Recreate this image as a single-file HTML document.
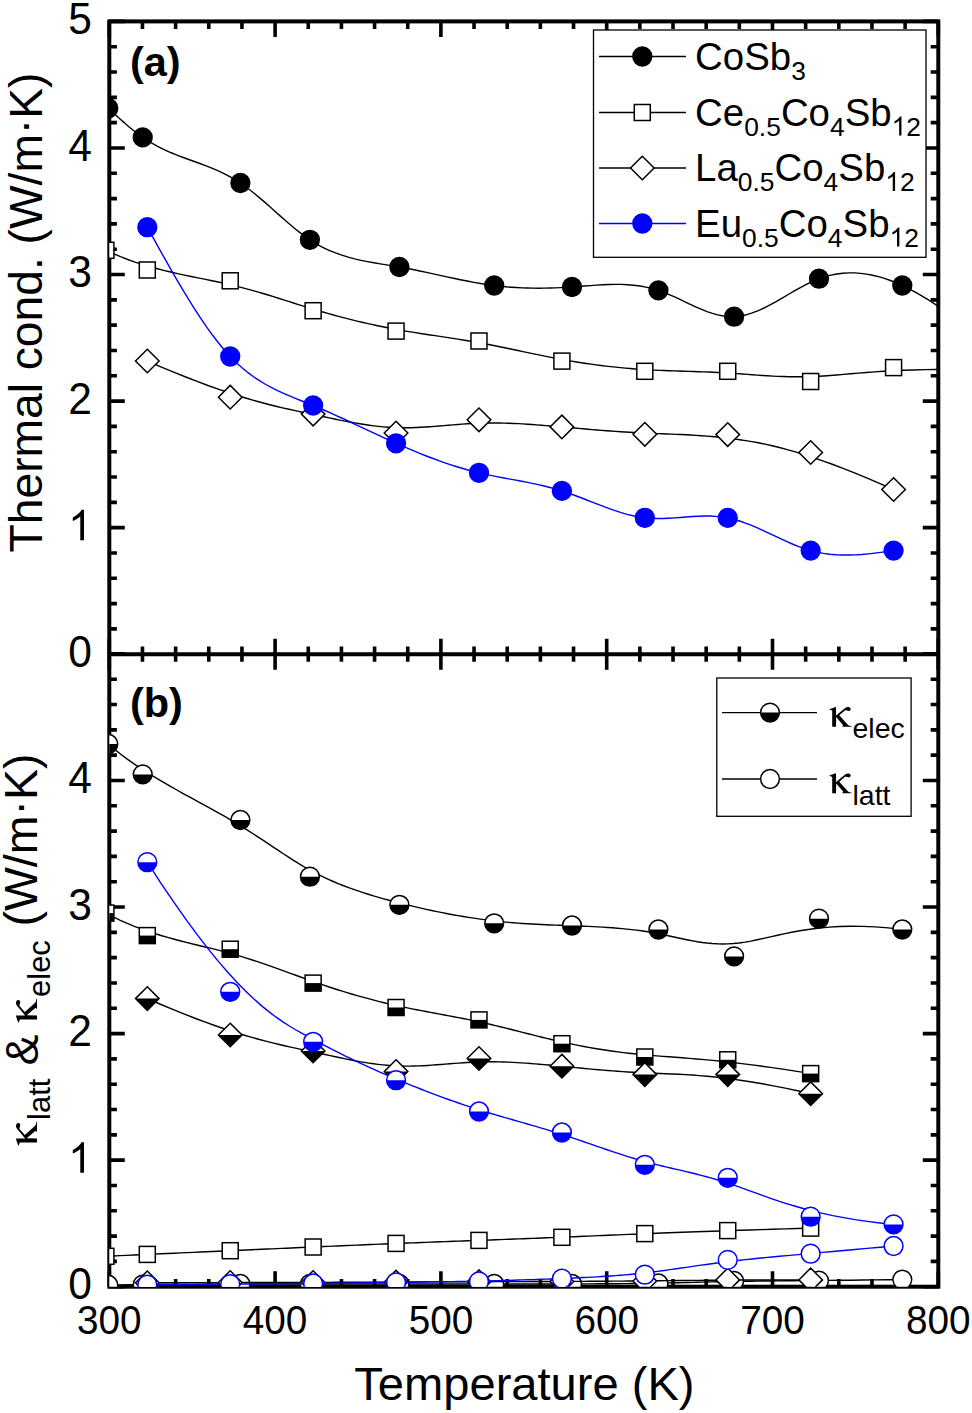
<!DOCTYPE html><html><head><meta charset="utf-8"><style>html,body{margin:0;padding:0;background:#fff;}svg{display:block;}</style></head><body><svg width="972" height="1413" viewBox="0 0 972 1413">
<rect width="972" height="1413" fill="#fff"/>
<defs><clipPath id="ca"><rect x="109.3" y="21.4" width="829.0" height="632.8000000000001"/></clipPath><clipPath id="cb"><rect x="109.3" y="654.2" width="829.0" height="632.5"/></clipPath></defs>
<path d="M109.30,654.20 h15.5 M938.30,654.20 h-15.5 M109.30,628.89 h7.6 M938.30,628.89 h-7.6 M109.30,603.58 h7.6 M938.30,603.58 h-7.6 M109.30,578.26 h7.6 M938.30,578.26 h-7.6 M109.30,552.95 h7.6 M938.30,552.95 h-7.6 M109.30,527.64 h15.5 M938.30,527.64 h-15.5 M109.30,502.33 h7.6 M938.30,502.33 h-7.6 M109.30,477.02 h7.6 M938.30,477.02 h-7.6 M109.30,451.70 h7.6 M938.30,451.70 h-7.6 M109.30,426.39 h7.6 M938.30,426.39 h-7.6 M109.30,401.08 h15.5 M938.30,401.08 h-15.5 M109.30,375.77 h7.6 M938.30,375.77 h-7.6 M109.30,350.46 h7.6 M938.30,350.46 h-7.6 M109.30,325.14 h7.6 M938.30,325.14 h-7.6 M109.30,299.83 h7.6 M938.30,299.83 h-7.6 M109.30,274.52 h15.5 M938.30,274.52 h-15.5 M109.30,249.21 h7.6 M938.30,249.21 h-7.6 M109.30,223.90 h7.6 M938.30,223.90 h-7.6 M109.30,198.58 h7.6 M938.30,198.58 h-7.6 M109.30,173.27 h7.6 M938.30,173.27 h-7.6 M109.30,147.96 h15.5 M938.30,147.96 h-15.5 M109.30,122.65 h7.6 M938.30,122.65 h-7.6 M109.30,97.34 h7.6 M938.30,97.34 h-7.6 M109.30,72.02 h7.6 M938.30,72.02 h-7.6 M109.30,46.71 h7.6 M938.30,46.71 h-7.6 M109.30,21.40 h15.5 M938.30,21.40 h-15.5 M109.30,1286.70 h15.5 M938.30,1286.70 h-15.5 M109.30,1261.39 h7.6 M938.30,1261.39 h-7.6 M109.30,1236.08 h7.6 M938.30,1236.08 h-7.6 M109.30,1210.76 h7.6 M938.30,1210.76 h-7.6 M109.30,1185.45 h7.6 M938.30,1185.45 h-7.6 M109.30,1160.14 h15.5 M938.30,1160.14 h-15.5 M109.30,1134.83 h7.6 M938.30,1134.83 h-7.6 M109.30,1109.52 h7.6 M938.30,1109.52 h-7.6 M109.30,1084.20 h7.6 M938.30,1084.20 h-7.6 M109.30,1058.89 h7.6 M938.30,1058.89 h-7.6 M109.30,1033.58 h15.5 M938.30,1033.58 h-15.5 M109.30,1008.27 h7.6 M938.30,1008.27 h-7.6 M109.30,982.96 h7.6 M938.30,982.96 h-7.6 M109.30,957.64 h7.6 M938.30,957.64 h-7.6 M109.30,932.33 h7.6 M938.30,932.33 h-7.6 M109.30,907.02 h15.5 M938.30,907.02 h-15.5 M109.30,881.71 h7.6 M938.30,881.71 h-7.6 M109.30,856.40 h7.6 M938.30,856.40 h-7.6 M109.30,831.08 h7.6 M938.30,831.08 h-7.6 M109.30,805.77 h7.6 M938.30,805.77 h-7.6 M109.30,780.46 h15.5 M938.30,780.46 h-15.5 M109.30,755.15 h7.6 M938.30,755.15 h-7.6 M109.30,729.84 h7.6 M938.30,729.84 h-7.6 M109.30,704.52 h7.6 M938.30,704.52 h-7.6 M109.30,679.21 h7.6 M938.30,679.21 h-7.6 M109.30,653.90 h15.5 M938.30,653.90 h-15.5 M109.30,21.40 v15.5 M109.30,638.70 v31.0 M109.30,1286.70 v-15.5 M142.46,21.40 v7.6 M142.46,646.60 v15.2 M142.46,1286.70 v-7.6 M175.62,21.40 v7.6 M175.62,646.60 v15.2 M175.62,1286.70 v-7.6 M208.78,21.40 v7.6 M208.78,646.60 v15.2 M208.78,1286.70 v-7.6 M241.94,21.40 v7.6 M241.94,646.60 v15.2 M241.94,1286.70 v-7.6 M275.10,21.40 v15.5 M275.10,638.70 v31.0 M275.10,1286.70 v-15.5 M308.26,21.40 v7.6 M308.26,646.60 v15.2 M308.26,1286.70 v-7.6 M341.42,21.40 v7.6 M341.42,646.60 v15.2 M341.42,1286.70 v-7.6 M374.58,21.40 v7.6 M374.58,646.60 v15.2 M374.58,1286.70 v-7.6 M407.74,21.40 v7.6 M407.74,646.60 v15.2 M407.74,1286.70 v-7.6 M440.90,21.40 v15.5 M440.90,638.70 v31.0 M440.90,1286.70 v-15.5 M474.06,21.40 v7.6 M474.06,646.60 v15.2 M474.06,1286.70 v-7.6 M507.22,21.40 v7.6 M507.22,646.60 v15.2 M507.22,1286.70 v-7.6 M540.38,21.40 v7.6 M540.38,646.60 v15.2 M540.38,1286.70 v-7.6 M573.54,21.40 v7.6 M573.54,646.60 v15.2 M573.54,1286.70 v-7.6 M606.70,21.40 v15.5 M606.70,638.70 v31.0 M606.70,1286.70 v-15.5 M639.86,21.40 v7.6 M639.86,646.60 v15.2 M639.86,1286.70 v-7.6 M673.02,21.40 v7.6 M673.02,646.60 v15.2 M673.02,1286.70 v-7.6 M706.18,21.40 v7.6 M706.18,646.60 v15.2 M706.18,1286.70 v-7.6 M739.34,21.40 v7.6 M739.34,646.60 v15.2 M739.34,1286.70 v-7.6 M772.50,21.40 v15.5 M772.50,638.70 v31.0 M772.50,1286.70 v-15.5 M805.66,21.40 v7.6 M805.66,646.60 v15.2 M805.66,1286.70 v-7.6 M838.82,21.40 v7.6 M838.82,646.60 v15.2 M838.82,1286.70 v-7.6 M871.98,21.40 v7.6 M871.98,646.60 v15.2 M871.98,1286.70 v-7.6 M905.14,21.40 v7.6 M905.14,646.60 v15.2 M905.14,1286.70 v-7.6 M938.30,21.40 v15.5 M938.30,638.70 v31.0 M938.30,1286.70 v-15.5" stroke="#000" stroke-width="3.6" fill="none"/>
<rect x="109.3" y="21.4" width="829.00" height="1265.30" stroke="#000" stroke-width="4.0" fill="none"/>
<path d="M109.3,654.2 H938.3" stroke="#000" stroke-width="4.0" fill="none"/>
<g clip-path="url(#ca)">
<path d="M108.30,108.20 L110.76,110.47 L113.21,112.74 L115.67,115.00 L118.13,117.24 L120.59,119.46 L123.04,121.64 L125.50,123.80 L127.96,125.91 L130.41,127.97 L132.87,129.99 L135.33,131.94 L137.79,133.83 L140.24,135.65 L142.70,137.40 L149.68,141.93 L156.66,145.90 L163.64,149.40 L170.61,152.52 L177.59,155.34 L184.57,157.98 L191.55,160.50 L198.53,163.02 L205.51,165.61 L212.49,168.38 L219.46,171.41 L226.44,174.80 L233.42,178.63 L240.40,183.00 L245.36,186.48 L250.33,190.22 L255.29,194.20 L260.26,198.36 L265.22,202.65 L270.19,207.03 L275.15,211.46 L280.11,215.88 L285.08,220.26 L290.04,224.54 L295.01,228.68 L299.97,232.63 L304.94,236.36 L309.90,239.80 L316.29,243.77 L322.69,247.26 L329.08,250.29 L335.47,252.92 L341.86,255.20 L348.26,257.16 L354.65,258.85 L361.04,260.32 L367.44,261.62 L373.83,262.78 L380.22,263.85 L386.61,264.88 L393.01,265.92 L399.40,267.00 L406.17,268.24 L412.94,269.56 L419.71,270.95 L426.49,272.39 L433.26,273.86 L440.03,275.34 L446.80,276.82 L453.57,278.28 L460.34,279.69 L467.11,281.04 L473.89,282.32 L480.66,283.50 L487.43,284.57 L494.20,285.50 L499.76,286.16 L505.31,286.72 L510.87,287.18 L516.43,287.55 L521.99,287.84 L527.54,288.04 L533.10,288.16 L538.66,288.20 L544.21,288.17 L549.77,288.06 L555.33,287.89 L560.89,287.65 L566.44,287.36 L572.00,287.00 L578.17,286.55 L584.34,286.06 L590.51,285.58 L596.69,285.13 L602.86,284.76 L609.03,284.49 L615.20,284.37 L621.37,284.42 L627.54,284.69 L633.71,285.20 L639.89,285.99 L646.06,287.10 L652.23,288.56 L658.40,290.40 L663.81,292.35 L669.21,294.55 L674.62,296.94 L680.03,299.45 L685.44,302.02 L690.84,304.58 L696.25,307.07 L701.66,309.41 L707.06,311.54 L712.47,313.39 L717.88,314.90 L723.29,316.00 L728.69,316.62 L734.10,316.70 L740.16,316.09 L746.23,314.80 L752.29,312.93 L758.36,310.55 L764.42,307.76 L770.49,304.64 L776.55,301.29 L782.61,297.79 L788.68,294.24 L794.74,290.72 L800.81,287.31 L806.87,284.11 L812.94,281.21 L819.00,278.70 L824.95,276.68 L830.90,275.10 L836.85,273.94 L842.80,273.20 L848.75,272.86 L854.70,272.91 L860.65,273.33 L866.60,274.11 L872.55,275.23 L878.50,276.68 L884.45,278.45 L890.40,280.51 L896.35,282.87 L902.30,285.50 L909.05,288.79 L915.79,292.40 L922.54,296.28 L929.28,300.42 L936.03,304.79 L942.78,309.37 L949.52,314.12 L956.27,319.04 L963.02,324.07 L969.76,329.22 L976.51,334.43 L983.25,339.70 L990.00,345.00" fill="none" stroke="#000" stroke-width="1.4"/><circle cx="108.30" cy="108.20" r="9.4" fill="#000" stroke="#000" stroke-width="1.5"/><circle cx="142.70" cy="137.40" r="9.4" fill="#000" stroke="#000" stroke-width="1.5"/><circle cx="240.40" cy="183.00" r="9.4" fill="#000" stroke="#000" stroke-width="1.5"/><circle cx="309.90" cy="239.80" r="9.4" fill="#000" stroke="#000" stroke-width="1.5"/><circle cx="399.40" cy="267.00" r="9.4" fill="#000" stroke="#000" stroke-width="1.5"/><circle cx="494.20" cy="285.50" r="9.4" fill="#000" stroke="#000" stroke-width="1.5"/><circle cx="572.00" cy="287.00" r="9.4" fill="#000" stroke="#000" stroke-width="1.5"/><circle cx="658.40" cy="290.40" r="9.4" fill="#000" stroke="#000" stroke-width="1.5"/><circle cx="734.10" cy="316.70" r="9.4" fill="#000" stroke="#000" stroke-width="1.5"/><circle cx="819.00" cy="278.70" r="9.4" fill="#000" stroke="#000" stroke-width="1.5"/><circle cx="902.30" cy="285.50" r="9.4" fill="#000" stroke="#000" stroke-width="1.5"/>
<path d="M105.90,250.30 L113.21,253.63 L120.50,256.69 L127.78,259.48 L135.04,262.05 L142.27,264.39 L149.45,266.54 L156.59,268.52 L163.66,270.34 L170.67,272.03 L177.60,273.60 L184.45,275.07 L191.21,276.47 L197.86,277.82 L204.41,279.14 L210.84,280.44 L217.14,281.75 L223.31,283.08 L229.34,284.46 L235.23,285.88 L240.99,287.34 L246.64,288.84 L252.18,290.36 L257.61,291.90 L262.96,293.47 L268.22,295.04 L273.40,296.63 L278.51,298.23 L283.57,299.82 L288.58,301.41 L293.54,302.99 L298.47,304.55 L303.37,306.10 L308.26,307.62 L313.14,309.12 L318.02,310.58 L322.90,312.01 L327.77,313.41 L332.65,314.77 L337.53,316.10 L342.41,317.39 L347.28,318.66 L352.16,319.88 L357.04,321.08 L361.92,322.23 L366.79,323.36 L371.67,324.44 L376.55,325.50 L381.43,326.51 L386.30,327.50 L391.18,328.44 L396.06,329.35 L400.94,330.22 L405.82,331.07 L410.69,331.88 L415.57,332.67 L420.45,333.44 L425.33,334.19 L430.20,334.94 L435.08,335.68 L439.96,336.41 L444.84,337.15 L449.71,337.89 L454.59,338.64 L459.47,339.41 L464.35,340.19 L469.22,341.00 L474.10,341.83 L478.98,342.70 L483.86,343.60 L488.74,344.53 L493.61,345.49 L498.49,346.47 L503.37,347.47 L508.25,348.48 L513.12,349.51 L518.00,350.54 L522.88,351.57 L527.76,352.61 L532.63,353.63 L537.51,354.65 L542.39,355.65 L547.27,356.64 L552.14,357.60 L557.02,358.54 L561.90,359.45 L566.78,360.32 L571.66,361.16 L576.53,361.97 L581.41,362.74 L586.29,363.48 L591.17,364.18 L596.04,364.85 L600.92,365.48 L605.80,366.08 L610.68,366.64 L615.55,367.17 L620.43,367.66 L625.31,368.12 L630.19,368.54 L635.06,368.93 L639.94,369.28 L644.82,369.60 L649.70,369.88 L654.58,370.13 L659.45,370.36 L664.33,370.56 L669.21,370.75 L674.09,370.91 L678.96,371.07 L683.84,371.22 L688.72,371.38 L693.60,371.53 L698.47,371.69 L703.35,371.85 L708.23,372.04 L713.11,372.24 L717.98,372.47 L722.86,372.72 L727.74,373.00 L732.62,373.32 L737.51,373.66 L742.41,374.02 L747.34,374.39 L752.30,374.77 L757.31,375.13 L762.37,375.48 L767.48,375.81 L772.66,376.11 L777.92,376.37 L783.27,376.57 L788.70,376.72 L794.24,376.81 L799.89,376.82 L805.65,376.75 L811.54,376.59 L817.57,376.32 L823.75,375.96 L830.11,375.51 L836.70,374.98 L843.56,374.40 L850.73,373.79 L858.25,373.15 L866.18,372.51 L874.54,371.89 L883.38,371.31 L892.75,370.78 L902.68,370.31 L913.22,369.94 L924.40,369.67 L936.28,369.52 L948.90,369.52 L962.29,369.67 L976.50,370.00" fill="none" stroke="#000" stroke-width="1.4"/><rect x="97.90" y="242.30" width="16.0" height="16.0" fill="#fff" stroke="#000" stroke-width="1.5"/><rect x="139.30" y="262.00" width="16.0" height="16.0" fill="#fff" stroke="#000" stroke-width="1.5"/><rect x="222.22" y="272.80" width="16.0" height="16.0" fill="#fff" stroke="#000" stroke-width="1.5"/><rect x="305.14" y="302.70" width="16.0" height="16.0" fill="#fff" stroke="#000" stroke-width="1.5"/><rect x="388.06" y="323.10" width="16.0" height="16.0" fill="#fff" stroke="#000" stroke-width="1.5"/><rect x="470.98" y="333.00" width="16.0" height="16.0" fill="#fff" stroke="#000" stroke-width="1.5"/><rect x="553.90" y="353.10" width="16.0" height="16.0" fill="#fff" stroke="#000" stroke-width="1.5"/><rect x="636.82" y="363.30" width="16.0" height="16.0" fill="#fff" stroke="#000" stroke-width="1.5"/><rect x="719.74" y="363.30" width="16.0" height="16.0" fill="#fff" stroke="#000" stroke-width="1.5"/><rect x="802.66" y="373.50" width="16.0" height="16.0" fill="#fff" stroke="#000" stroke-width="1.5"/><rect x="885.58" y="359.60" width="16.0" height="16.0" fill="#fff" stroke="#000" stroke-width="1.5"/>
<path d="M147.30,361.00 L160.85,366.83 L173.65,372.16 L185.75,377.02 L197.17,381.45 L207.96,385.47 L218.15,389.10 L227.78,392.39 L236.89,395.34 L245.50,398.00 L253.67,400.39 L261.42,402.54 L268.78,404.48 L275.81,406.23 L282.53,407.83 L288.97,409.29 L295.19,410.66 L301.20,411.95 L307.06,413.20 L312.78,414.43 L318.38,415.63 L323.87,416.80 L329.25,417.93 L334.53,419.03 L339.71,420.08 L344.82,421.09 L349.84,422.04 L354.79,422.93 L359.68,423.77 L364.51,424.54 L369.30,425.23 L374.04,425.86 L378.75,426.40 L383.43,426.86 L388.09,427.23 L392.74,427.51 L397.39,427.69 L402.03,427.78 L406.67,427.77 L411.32,427.69 L415.96,427.53 L420.60,427.31 L425.25,427.05 L429.89,426.73 L434.53,426.39 L439.18,426.02 L443.82,425.64 L448.47,425.25 L453.11,424.86 L457.75,424.48 L462.40,424.13 L467.04,423.81 L471.68,423.52 L476.33,423.29 L480.97,423.12 L485.61,423.00 L490.26,422.95 L494.90,422.95 L499.54,423.00 L504.19,423.10 L508.83,423.25 L513.47,423.43 L518.12,423.65 L522.76,423.91 L527.41,424.20 L532.05,424.51 L536.69,424.85 L541.34,425.21 L545.98,425.59 L550.62,425.98 L555.27,426.37 L559.91,426.78 L564.55,427.18 L569.20,427.59 L573.84,427.99 L578.48,428.40 L583.13,428.80 L587.77,429.19 L592.41,429.58 L597.06,429.96 L601.70,430.33 L606.35,430.69 L610.99,431.04 L615.63,431.38 L620.28,431.70 L624.92,432.01 L629.56,432.30 L634.21,432.57 L638.85,432.82 L643.49,433.05 L648.14,433.27 L652.79,433.46 L657.45,433.64 L662.13,433.81 L666.84,433.99 L671.58,434.17 L676.37,434.36 L681.20,434.57 L686.09,434.80 L691.04,435.06 L696.06,435.36 L701.17,435.70 L706.35,436.08 L711.63,436.52 L717.01,437.02 L722.50,437.58 L728.10,438.21 L733.82,438.92 L739.68,439.71 L745.69,440.61 L751.91,441.63 L758.35,442.81 L765.07,444.17 L772.10,445.74 L779.46,447.53 L787.21,449.58 L795.38,451.91 L803.99,454.54 L813.10,457.50 L822.73,460.81 L832.92,464.50 L843.71,468.59 L855.13,473.12 L867.23,478.09 L880.03,483.54 L893.58,489.50" fill="none" stroke="#000" stroke-width="1.4"/><path d="M147.30,349.20 L159.10,361.00 L147.30,372.80 L135.50,361.00 Z" fill="#fff" stroke="#000" stroke-width="1.5"/><path d="M230.22,385.40 L242.02,397.20 L230.22,409.00 L218.42,397.20 Z" fill="#fff" stroke="#000" stroke-width="1.5"/><path d="M313.14,402.30 L324.94,414.10 L313.14,425.90 L301.34,414.10 Z" fill="#fff" stroke="#000" stroke-width="1.5"/><path d="M396.06,421.20 L407.86,433.00 L396.06,444.80 L384.26,433.00 Z" fill="#fff" stroke="#000" stroke-width="1.5"/><path d="M478.98,408.00 L490.78,419.80 L478.98,431.60 L467.18,419.80 Z" fill="#fff" stroke="#000" stroke-width="1.5"/><path d="M561.90,415.10 L573.70,426.90 L561.90,438.70 L550.10,426.90 Z" fill="#fff" stroke="#000" stroke-width="1.5"/><path d="M644.82,422.50 L656.62,434.30 L644.82,446.10 L633.02,434.30 Z" fill="#fff" stroke="#000" stroke-width="1.5"/><path d="M727.74,422.80 L739.54,434.60 L727.74,446.40 L715.94,434.60 Z" fill="#fff" stroke="#000" stroke-width="1.5"/><path d="M810.66,440.70 L822.46,452.50 L810.66,464.30 L798.86,452.50 Z" fill="#fff" stroke="#000" stroke-width="1.5"/><path d="M893.58,477.70 L905.38,489.50 L893.58,501.30 L881.78,489.50 Z" fill="#fff" stroke="#000" stroke-width="1.5"/>
<path d="M147.30,227.20 L153.22,237.91 L159.15,248.58 L165.07,259.16 L170.99,269.60 L176.91,279.86 L182.84,289.89 L188.76,299.65 L194.68,309.09 L200.61,318.16 L206.53,326.83 L212.45,335.04 L218.37,342.76 L224.30,349.92 L230.22,356.50 L236.14,362.46 L242.07,367.83 L247.99,372.67 L253.91,377.03 L259.83,380.95 L265.76,384.50 L271.68,387.73 L277.60,390.68 L283.53,393.40 L289.45,395.96 L295.37,398.39 L301.29,400.76 L307.22,403.11 L313.14,405.50 L319.06,407.96 L324.99,410.50 L330.91,413.11 L336.83,415.78 L342.75,418.49 L348.68,421.24 L354.60,424.01 L360.52,426.80 L366.45,429.59 L372.37,432.38 L378.29,435.16 L384.21,437.91 L390.14,440.63 L396.06,443.30 L401.98,445.92 L407.91,448.47 L413.83,450.97 L419.75,453.39 L425.67,455.74 L431.60,458.01 L437.52,460.20 L443.44,462.30 L449.37,464.31 L455.29,466.22 L461.21,468.03 L467.13,469.73 L473.06,471.32 L478.98,472.80 L484.90,474.16 L490.83,475.42 L496.75,476.61 L502.67,477.74 L508.59,478.84 L514.52,479.93 L520.44,481.03 L526.36,482.16 L532.29,483.35 L538.21,484.62 L544.13,485.99 L550.05,487.47 L555.98,489.10 L561.90,490.90 L567.82,492.87 L573.75,494.99 L579.67,497.22 L585.59,499.52 L591.51,501.86 L597.44,504.18 L603.36,506.46 L609.28,508.65 L615.21,510.71 L621.13,512.61 L627.05,514.31 L632.97,515.77 L638.90,516.94 L644.82,517.80 L650.74,518.31 L656.67,518.52 L662.59,518.49 L668.51,518.26 L674.43,517.90 L680.36,517.46 L686.28,517.00 L692.20,516.57 L698.13,516.24 L704.05,516.05 L709.97,516.07 L715.89,516.34 L721.82,516.94 L727.74,517.90 L733.66,519.27 L739.59,521.02 L745.51,523.08 L751.43,525.41 L757.35,527.94 L763.28,530.61 L769.20,533.38 L775.12,536.18 L781.05,538.96 L786.97,541.67 L792.89,544.24 L798.81,546.62 L804.74,548.76 L810.66,550.60 L817.04,552.19 L823.42,553.41 L829.80,554.27 L836.17,554.81 L842.55,555.06 L848.93,555.06 L855.31,554.84 L861.69,554.43 L868.07,553.85 L874.44,553.15 L880.82,552.35 L887.20,551.49 L893.58,550.60" fill="none" stroke="#0000ff" stroke-width="1.4"/><circle cx="147.30" cy="227.20" r="9.4" fill="#0000ff" stroke="#0000ff" stroke-width="1.5"/><circle cx="230.22" cy="356.50" r="9.4" fill="#0000ff" stroke="#0000ff" stroke-width="1.5"/><circle cx="313.14" cy="405.50" r="9.4" fill="#0000ff" stroke="#0000ff" stroke-width="1.5"/><circle cx="396.06" cy="443.30" r="9.4" fill="#0000ff" stroke="#0000ff" stroke-width="1.5"/><circle cx="478.98" cy="472.80" r="9.4" fill="#0000ff" stroke="#0000ff" stroke-width="1.5"/><circle cx="561.90" cy="490.90" r="9.4" fill="#0000ff" stroke="#0000ff" stroke-width="1.5"/><circle cx="644.82" cy="517.80" r="9.4" fill="#0000ff" stroke="#0000ff" stroke-width="1.5"/><circle cx="727.74" cy="517.90" r="9.4" fill="#0000ff" stroke="#0000ff" stroke-width="1.5"/><circle cx="810.66" cy="550.60" r="9.4" fill="#0000ff" stroke="#0000ff" stroke-width="1.5"/><circle cx="893.58" cy="550.60" r="9.4" fill="#0000ff" stroke="#0000ff" stroke-width="1.5"/>
</g>
<g clip-path="url(#cb)">
<path d="M108.30,1285.00 L114.38,1284.93 L120.71,1284.87 L127.27,1284.80 L134.02,1284.74 L140.94,1284.68 L147.98,1284.62 L155.13,1284.57 L162.34,1284.52 L169.59,1284.47 L176.85,1284.42 L184.09,1284.37 L191.26,1284.33 L198.35,1284.29 L205.32,1284.25 L212.14,1284.22 L218.78,1284.19 L225.21,1284.16 L231.40,1284.13 L237.34,1284.11 L243.06,1284.09 L248.57,1284.07 L253.89,1284.06 L259.04,1284.05 L264.04,1284.04 L268.91,1284.03 L273.67,1284.02 L278.33,1284.01 L282.91,1284.01 L287.43,1284.01 L291.92,1284.00 L296.38,1284.00 L300.84,1284.00 L305.31,1284.00 L309.82,1284.00 L314.38,1284.00 L319.00,1284.00 L323.69,1284.00 L328.44,1284.00 L333.24,1284.00 L338.10,1284.00 L343.01,1284.00 L347.97,1284.00 L352.97,1284.00 L358.02,1284.00 L363.11,1284.00 L368.24,1284.00 L373.40,1284.00 L378.59,1284.00 L383.81,1284.00 L389.06,1284.00 L394.33,1284.00 L399.62,1284.00 L404.93,1284.00 L410.25,1284.00 L415.59,1284.00 L420.93,1284.00 L426.26,1284.00 L431.60,1284.00 L436.93,1284.00 L442.25,1284.00 L447.55,1284.00 L452.83,1284.00 L458.09,1284.00 L463.31,1284.00 L468.51,1284.00 L473.67,1284.00 L478.78,1284.00 L483.86,1284.00 L488.88,1284.00 L493.84,1284.00 L498.76,1284.00 L503.62,1284.00 L508.44,1284.00 L513.22,1284.00 L517.97,1284.00 L522.69,1284.00 L527.38,1283.99 L532.05,1283.99 L536.71,1283.99 L541.36,1283.98 L546.00,1283.98 L550.64,1283.97 L555.29,1283.96 L559.95,1283.95 L564.62,1283.94 L569.31,1283.93 L574.02,1283.91 L578.77,1283.90 L583.53,1283.88 L588.32,1283.86 L593.12,1283.84 L597.94,1283.81 L602.77,1283.79 L607.60,1283.75 L612.44,1283.72 L617.27,1283.68 L622.10,1283.64 L626.92,1283.59 L631.73,1283.54 L636.52,1283.48 L641.29,1283.41 L646.04,1283.34 L650.76,1283.27 L655.45,1283.19 L660.11,1283.10 L664.74,1283.01 L669.35,1282.91 L673.96,1282.80 L678.59,1282.70 L683.23,1282.58 L687.91,1282.47 L692.63,1282.36 L697.40,1282.24 L702.25,1282.12 L707.18,1282.01 L712.19,1281.90 L717.32,1281.78 L722.56,1281.68 L727.92,1281.57 L733.43,1281.47 L739.09,1281.37 L744.91,1281.28 L750.92,1281.20 L757.15,1281.12 L763.64,1281.04 L770.42,1280.97 L777.54,1280.90 L785.03,1280.82 L792.92,1280.74 L801.26,1280.67 L810.07,1280.58 L819.40,1280.49 L829.29,1280.40 L839.77,1280.29 L850.87,1280.18 L862.64,1280.05 L875.11,1279.92 L888.32,1279.76 L902.30,1279.60" fill="none" stroke="#000" stroke-width="1.4"/><circle cx="108.30" cy="1285.00" r="9.4" fill="#fff" stroke="#000" stroke-width="1.5"/><circle cx="142.70" cy="1284.60" r="9.4" fill="#fff" stroke="#000" stroke-width="1.5"/><circle cx="240.40" cy="1284.00" r="9.4" fill="#fff" stroke="#000" stroke-width="1.5"/><circle cx="309.90" cy="1284.00" r="9.4" fill="#fff" stroke="#000" stroke-width="1.5"/><circle cx="399.40" cy="1284.00" r="9.4" fill="#fff" stroke="#000" stroke-width="1.5"/><circle cx="494.20" cy="1284.00" r="9.4" fill="#fff" stroke="#000" stroke-width="1.5"/><circle cx="572.00" cy="1284.00" r="9.4" fill="#fff" stroke="#000" stroke-width="1.5"/><circle cx="658.40" cy="1283.50" r="9.4" fill="#fff" stroke="#000" stroke-width="1.5"/><circle cx="734.10" cy="1281.00" r="9.4" fill="#fff" stroke="#000" stroke-width="1.5"/><circle cx="819.00" cy="1280.60" r="9.4" fill="#fff" stroke="#000" stroke-width="1.5"/><circle cx="902.30" cy="1279.60" r="9.4" fill="#fff" stroke="#000" stroke-width="1.5"/>
<path d="M147.30,1282.80 L160.39,1282.75 L172.78,1282.71 L184.52,1282.68 L195.62,1282.64 L206.13,1282.61 L216.07,1282.59 L225.49,1282.57 L234.41,1282.55 L242.86,1282.53 L250.88,1282.52 L258.50,1282.50 L265.75,1282.49 L272.68,1282.48 L279.29,1282.47 L285.64,1282.46 L291.76,1282.45 L297.67,1282.44 L303.41,1282.42 L309.02,1282.41 L314.50,1282.39 L319.88,1282.38 L325.14,1282.36 L330.32,1282.34 L335.39,1282.32 L340.39,1282.30 L345.30,1282.28 L350.15,1282.26 L354.92,1282.24 L359.64,1282.22 L364.31,1282.19 L368.93,1282.17 L373.51,1282.15 L378.06,1282.12 L382.58,1282.10 L387.09,1282.08 L391.58,1282.06 L396.06,1282.03 L400.54,1282.01 L405.02,1281.99 L409.51,1281.97 L413.99,1281.95 L418.47,1281.93 L422.95,1281.91 L427.44,1281.90 L431.92,1281.88 L436.40,1281.86 L440.88,1281.84 L445.36,1281.83 L449.85,1281.81 L454.33,1281.80 L458.81,1281.78 L463.29,1281.77 L467.77,1281.75 L472.26,1281.74 L476.74,1281.72 L481.22,1281.71 L485.70,1281.70 L490.19,1281.68 L494.67,1281.67 L499.15,1281.66 L503.63,1281.65 L508.11,1281.63 L512.60,1281.62 L517.08,1281.61 L521.56,1281.59 L526.04,1281.58 L530.52,1281.56 L535.01,1281.55 L539.49,1281.53 L543.97,1281.52 L548.45,1281.50 L552.94,1281.49 L557.42,1281.47 L561.90,1281.45 L566.38,1281.43 L570.87,1281.41 L575.38,1281.39 L579.90,1281.37 L584.45,1281.34 L589.03,1281.32 L593.65,1281.29 L598.32,1281.26 L603.04,1281.23 L607.81,1281.19 L612.66,1281.16 L617.57,1281.12 L622.57,1281.08 L627.64,1281.04 L632.82,1280.99 L638.08,1280.94 L643.46,1280.89 L648.94,1280.84 L654.55,1280.78 L660.29,1280.72 L666.20,1280.65 L672.32,1280.59 L678.67,1280.52 L685.28,1280.46 L692.21,1280.39 L699.46,1280.33 L707.08,1280.26 L715.10,1280.21 L723.55,1280.15 L732.47,1280.10 L741.89,1280.05 L751.83,1280.01 L762.34,1279.97 L773.44,1279.94 L785.18,1279.92 L797.57,1279.90 L810.66,1279.90" fill="none" stroke="#000" stroke-width="1.4"/><path d="M147.30,1271.00 L159.10,1282.80 L147.30,1294.60 L135.50,1282.80 Z" fill="#fff" stroke="#000" stroke-width="1.5"/><path d="M230.22,1270.70 L242.02,1282.50 L230.22,1294.30 L218.42,1282.50 Z" fill="#fff" stroke="#000" stroke-width="1.5"/><path d="M313.14,1270.70 L324.94,1282.50 L313.14,1294.30 L301.34,1282.50 Z" fill="#fff" stroke="#000" stroke-width="1.5"/><path d="M396.06,1270.20 L407.86,1282.00 L396.06,1293.80 L384.26,1282.00 Z" fill="#fff" stroke="#000" stroke-width="1.5"/><path d="M478.98,1269.90 L490.78,1281.70 L478.98,1293.50 L467.18,1281.70 Z" fill="#fff" stroke="#000" stroke-width="1.5"/><path d="M561.90,1269.70 L573.70,1281.50 L561.90,1293.30 L550.10,1281.50 Z" fill="#fff" stroke="#000" stroke-width="1.5"/><path d="M644.82,1269.20 L656.62,1281.00 L644.82,1292.80 L633.02,1281.00 Z" fill="#fff" stroke="#000" stroke-width="1.5"/><path d="M727.74,1268.10 L739.54,1279.90 L727.74,1291.70 L715.94,1279.90 Z" fill="#fff" stroke="#000" stroke-width="1.5"/><path d="M810.66,1268.10 L822.46,1279.90 L810.66,1291.70 L798.86,1279.90 Z" fill="#fff" stroke="#000" stroke-width="1.5"/>
<path d="M105.90,1256.30 L112.85,1255.98 L119.80,1255.66 L126.74,1255.35 L133.65,1255.03 L140.54,1254.72 L147.39,1254.41 L154.19,1254.10 L160.95,1253.80 L167.65,1253.50 L174.28,1253.20 L180.85,1252.91 L187.33,1252.62 L193.72,1252.33 L200.02,1252.05 L206.22,1251.77 L212.31,1251.50 L218.29,1251.23 L224.14,1250.97 L229.86,1250.72 L235.46,1250.47 L240.95,1250.22 L246.33,1249.98 L251.61,1249.75 L256.79,1249.51 L261.90,1249.29 L266.92,1249.06 L271.87,1248.84 L276.76,1248.63 L281.59,1248.41 L286.38,1248.20 L291.12,1247.99 L295.83,1247.78 L300.51,1247.57 L305.17,1247.37 L309.82,1247.16 L314.47,1246.96 L319.11,1246.75 L323.75,1246.55 L328.40,1246.35 L333.04,1246.14 L337.68,1245.94 L342.33,1245.74 L346.97,1245.54 L351.61,1245.34 L356.26,1245.14 L360.90,1244.95 L365.55,1244.75 L370.19,1244.56 L374.83,1244.36 L379.48,1244.17 L384.12,1243.98 L388.76,1243.79 L393.41,1243.61 L398.05,1243.42 L402.69,1243.24 L407.34,1243.06 L411.98,1242.88 L416.62,1242.70 L421.27,1242.52 L425.91,1242.35 L430.55,1242.17 L435.20,1242.00 L439.84,1241.82 L444.49,1241.65 L449.13,1241.48 L453.77,1241.31 L458.42,1241.14 L463.06,1240.97 L467.70,1240.80 L472.35,1240.63 L476.99,1240.46 L481.63,1240.29 L486.28,1240.11 L490.92,1239.94 L495.56,1239.77 L500.21,1239.60 L504.85,1239.42 L509.49,1239.25 L514.14,1239.07 L518.78,1238.90 L523.43,1238.72 L528.07,1238.54 L532.71,1238.36 L537.36,1238.18 L542.00,1238.00 L546.64,1237.82 L551.29,1237.63 L555.93,1237.44 L560.57,1237.25 L565.22,1237.06 L569.87,1236.87 L574.53,1236.68 L579.21,1236.48 L583.92,1236.28 L588.66,1236.08 L593.45,1235.88 L598.28,1235.67 L603.17,1235.47 L608.12,1235.26 L613.14,1235.04 L618.25,1234.83 L623.43,1234.62 L628.71,1234.40 L634.09,1234.18 L639.58,1233.95 L645.18,1233.73 L650.90,1233.50 L656.76,1233.27 L662.77,1233.03 L668.99,1232.80 L675.43,1232.55 L682.15,1232.30 L689.18,1232.05 L696.54,1231.78 L704.29,1231.51 L712.46,1231.23 L721.07,1230.94 L730.18,1230.63 L739.81,1230.31 L750.00,1229.98 L760.79,1229.64 L772.21,1229.28 L784.31,1228.90 L797.11,1228.51 L810.66,1228.10" fill="none" stroke="#000" stroke-width="1.4"/><rect x="97.90" y="1248.30" width="16.0" height="16.0" fill="#fff" stroke="#000" stroke-width="1.5"/><rect x="139.30" y="1246.40" width="16.0" height="16.0" fill="#fff" stroke="#000" stroke-width="1.5"/><rect x="222.22" y="1242.70" width="16.0" height="16.0" fill="#fff" stroke="#000" stroke-width="1.5"/><rect x="305.14" y="1239.00" width="16.0" height="16.0" fill="#fff" stroke="#000" stroke-width="1.5"/><rect x="388.06" y="1235.40" width="16.0" height="16.0" fill="#fff" stroke="#000" stroke-width="1.5"/><rect x="470.98" y="1232.40" width="16.0" height="16.0" fill="#fff" stroke="#000" stroke-width="1.5"/><rect x="553.90" y="1229.30" width="16.0" height="16.0" fill="#fff" stroke="#000" stroke-width="1.5"/><rect x="636.82" y="1225.60" width="16.0" height="16.0" fill="#fff" stroke="#000" stroke-width="1.5"/><rect x="719.74" y="1222.60" width="16.0" height="16.0" fill="#fff" stroke="#000" stroke-width="1.5"/><rect x="802.66" y="1220.10" width="16.0" height="16.0" fill="#fff" stroke="#000" stroke-width="1.5"/>
<path d="M147.30,1284.60 L160.85,1284.53 L173.65,1284.47 L185.75,1284.40 L197.17,1284.34 L207.96,1284.27 L218.15,1284.21 L227.78,1284.15 L236.89,1284.09 L245.50,1284.02 L253.67,1283.96 L261.42,1283.90 L268.78,1283.84 L275.81,1283.78 L282.53,1283.72 L288.97,1283.65 L295.19,1283.59 L301.20,1283.53 L307.06,1283.47 L312.78,1283.40 L318.38,1283.34 L323.87,1283.28 L329.25,1283.21 L334.53,1283.15 L339.71,1283.08 L344.82,1283.02 L349.84,1282.95 L354.79,1282.89 L359.68,1282.83 L364.51,1282.76 L369.30,1282.70 L374.04,1282.64 L378.75,1282.57 L383.43,1282.51 L388.09,1282.45 L392.74,1282.39 L397.39,1282.33 L402.03,1282.28 L406.67,1282.22 L411.32,1282.16 L415.96,1282.10 L420.60,1282.04 L425.25,1281.98 L429.89,1281.92 L434.53,1281.86 L439.18,1281.80 L443.82,1281.73 L448.47,1281.66 L453.11,1281.58 L457.75,1281.51 L462.40,1281.43 L467.04,1281.34 L471.68,1281.25 L476.33,1281.16 L480.97,1281.06 L485.61,1280.95 L490.26,1280.84 L494.90,1280.72 L499.54,1280.60 L504.19,1280.47 L508.83,1280.34 L513.47,1280.20 L518.12,1280.06 L522.76,1279.91 L527.41,1279.76 L532.05,1279.60 L536.69,1279.44 L541.34,1279.27 L545.98,1279.10 L550.62,1278.93 L555.27,1278.75 L559.91,1278.56 L564.55,1278.38 L569.20,1278.18 L573.84,1277.98 L578.48,1277.77 L583.13,1277.56 L587.77,1277.33 L592.41,1277.08 L597.06,1276.83 L601.70,1276.55 L606.35,1276.26 L610.99,1275.94 L615.63,1275.61 L620.28,1275.25 L624.92,1274.87 L629.56,1274.46 L634.21,1274.02 L638.85,1273.55 L643.49,1273.05 L648.14,1272.52 L652.79,1271.95 L657.45,1271.36 L662.13,1270.74 L666.84,1270.09 L671.58,1269.43 L676.37,1268.75 L681.20,1268.05 L686.09,1267.34 L691.04,1266.63 L696.06,1265.90 L701.17,1265.18 L706.35,1264.45 L711.63,1263.73 L717.01,1263.01 L722.50,1262.30 L728.10,1261.60 L733.82,1260.91 L739.68,1260.24 L745.69,1259.59 L751.91,1258.94 L758.35,1258.29 L765.07,1257.63 L772.10,1256.97 L779.46,1256.28 L787.21,1255.58 L795.38,1254.84 L803.99,1254.08 L813.10,1253.27 L822.73,1252.41 L832.92,1251.51 L843.71,1250.54 L855.13,1249.52 L867.23,1248.42 L880.03,1247.25 L893.58,1246.00" fill="none" stroke="#0000ff" stroke-width="1.4"/><circle cx="147.30" cy="1284.60" r="9.4" fill="#fff" stroke="#0000ff" stroke-width="1.5"/><circle cx="230.22" cy="1284.20" r="9.4" fill="#fff" stroke="#0000ff" stroke-width="1.5"/><circle cx="313.14" cy="1283.50" r="9.4" fill="#fff" stroke="#0000ff" stroke-width="1.5"/><circle cx="396.06" cy="1282.30" r="9.4" fill="#fff" stroke="#0000ff" stroke-width="1.5"/><circle cx="478.98" cy="1281.40" r="9.4" fill="#fff" stroke="#0000ff" stroke-width="1.5"/><circle cx="561.90" cy="1278.70" r="9.4" fill="#fff" stroke="#0000ff" stroke-width="1.5"/><circle cx="644.82" cy="1274.70" r="9.4" fill="#fff" stroke="#0000ff" stroke-width="1.5"/><circle cx="727.74" cy="1259.90" r="9.4" fill="#fff" stroke="#0000ff" stroke-width="1.5"/><circle cx="810.66" cy="1253.70" r="9.4" fill="#fff" stroke="#0000ff" stroke-width="1.5"/><circle cx="893.58" cy="1246.00" r="9.4" fill="#fff" stroke="#0000ff" stroke-width="1.5"/>
<path d="M108.30,744.00 L114.38,749.17 L120.71,754.20 L127.27,759.10 L134.02,763.86 L140.94,768.49 L147.98,773.01 L155.13,777.41 L162.34,781.71 L169.59,785.91 L176.85,790.01 L184.09,794.03 L191.26,797.97 L198.35,801.84 L205.32,805.64 L212.14,809.38 L218.78,813.06 L225.21,816.70 L231.40,820.29 L237.34,823.85 L243.06,827.36 L248.57,830.82 L253.89,834.23 L259.04,837.59 L264.04,840.89 L268.91,844.14 L273.67,847.31 L278.33,850.43 L282.91,853.47 L287.43,856.44 L291.92,859.33 L296.38,862.14 L300.84,864.88 L305.31,867.52 L309.82,870.08 L314.38,872.54 L319.00,874.91 L323.69,877.19 L328.44,879.38 L333.24,881.50 L338.10,883.53 L343.01,885.48 L347.97,887.37 L352.97,889.18 L358.02,890.93 L363.11,892.62 L368.24,894.25 L373.40,895.83 L378.59,897.36 L383.81,898.84 L389.06,900.27 L394.33,901.67 L399.62,903.03 L404.93,904.36 L410.25,905.66 L415.59,906.92 L420.93,908.15 L426.26,909.33 L431.60,910.49 L436.93,911.60 L442.25,912.67 L447.55,913.70 L452.83,914.69 L458.09,915.63 L463.31,916.53 L468.51,917.38 L473.67,918.18 L478.78,918.93 L483.86,919.63 L488.88,920.28 L493.84,920.87 L498.76,921.42 L503.62,921.91 L508.44,922.36 L513.22,922.77 L517.97,923.14 L522.69,923.47 L527.38,923.78 L532.05,924.05 L536.71,924.30 L541.36,924.53 L546.00,924.74 L550.64,924.93 L555.29,925.12 L559.95,925.30 L564.62,925.47 L569.31,925.65 L574.02,925.82 L578.77,926.01 L583.53,926.20 L588.32,926.41 L593.12,926.63 L597.94,926.88 L602.77,927.16 L607.60,927.47 L612.44,927.81 L617.27,928.19 L622.10,928.61 L626.92,929.08 L631.73,929.60 L636.52,930.17 L641.29,930.80 L646.04,931.50 L650.76,932.26 L655.45,933.10 L660.11,934.00 L664.74,934.97 L669.35,935.98 L673.96,937.01 L678.59,938.03 L683.23,939.04 L687.91,940.01 L692.63,940.91 L697.40,941.74 L702.25,942.46 L707.18,943.06 L712.19,943.52 L717.32,943.82 L722.56,943.93 L727.92,943.84 L733.43,943.53 L739.09,942.97 L744.91,942.15 L750.92,941.08 L757.15,939.80 L763.64,938.36 L770.42,936.81 L777.54,935.20 L785.03,933.59 L792.92,932.01 L801.26,930.53 L810.07,929.19 L819.40,928.04 L829.29,927.12 L839.77,926.50 L850.87,926.22 L862.64,926.33 L875.11,926.88 L888.32,927.92 L902.30,929.50" fill="none" stroke="#000" stroke-width="1.4"/><circle cx="108.30" cy="744.00" r="9.4" fill="#fff"/><path d="M98.90,744.00 A9.4,9.4 0 0 0 117.70,744.00 Z" fill="#000"/><circle cx="108.30" cy="744.00" r="9.4" fill="none" stroke="#000" stroke-width="1.5"/><circle cx="142.70" cy="774.40" r="9.4" fill="#fff"/><path d="M133.30,774.40 A9.4,9.4 0 0 0 152.10,774.40 Z" fill="#000"/><circle cx="142.70" cy="774.40" r="9.4" fill="none" stroke="#000" stroke-width="1.5"/><circle cx="240.40" cy="820.00" r="9.4" fill="#fff"/><path d="M231.00,820.00 A9.4,9.4 0 0 0 249.80,820.00 Z" fill="#000"/><circle cx="240.40" cy="820.00" r="9.4" fill="none" stroke="#000" stroke-width="1.5"/><circle cx="309.90" cy="876.70" r="9.4" fill="#fff"/><path d="M300.50,876.70 A9.4,9.4 0 0 0 319.30,876.70 Z" fill="#000"/><circle cx="309.90" cy="876.70" r="9.4" fill="none" stroke="#000" stroke-width="1.5"/><circle cx="399.40" cy="904.80" r="9.4" fill="#fff"/><path d="M390.00,904.80 A9.4,9.4 0 0 0 408.80,904.80 Z" fill="#000"/><circle cx="399.40" cy="904.80" r="9.4" fill="none" stroke="#000" stroke-width="1.5"/><circle cx="494.20" cy="923.30" r="9.4" fill="#fff"/><path d="M484.80,923.30 A9.4,9.4 0 0 0 503.60,923.30 Z" fill="#000"/><circle cx="494.20" cy="923.30" r="9.4" fill="none" stroke="#000" stroke-width="1.5"/><circle cx="572.00" cy="925.50" r="9.4" fill="#fff"/><path d="M562.60,925.50 A9.4,9.4 0 0 0 581.40,925.50 Z" fill="#000"/><circle cx="572.00" cy="925.50" r="9.4" fill="none" stroke="#000" stroke-width="1.5"/><circle cx="658.40" cy="929.50" r="9.4" fill="#fff"/><path d="M649.00,929.50 A9.4,9.4 0 0 0 667.80,929.50 Z" fill="#000"/><circle cx="658.40" cy="929.50" r="9.4" fill="none" stroke="#000" stroke-width="1.5"/><circle cx="734.10" cy="956.40" r="9.4" fill="#fff"/><path d="M724.70,956.40 A9.4,9.4 0 0 0 743.50,956.40 Z" fill="#000"/><circle cx="734.10" cy="956.40" r="9.4" fill="none" stroke="#000" stroke-width="1.5"/><circle cx="819.00" cy="918.70" r="9.4" fill="#fff"/><path d="M809.60,918.70 A9.4,9.4 0 0 0 828.40,918.70 Z" fill="#000"/><circle cx="819.00" cy="918.70" r="9.4" fill="none" stroke="#000" stroke-width="1.5"/><circle cx="902.30" cy="929.50" r="9.4" fill="#fff"/><path d="M892.90,929.50 A9.4,9.4 0 0 0 911.70,929.50 Z" fill="#000"/><circle cx="902.30" cy="929.50" r="9.4" fill="none" stroke="#000" stroke-width="1.5"/>
<path d="M105.90,913.10 L112.85,916.74 L119.80,920.09 L126.74,923.20 L133.65,926.06 L140.54,928.70 L147.39,931.14 L154.19,933.40 L160.95,935.50 L167.65,937.45 L174.28,939.28 L180.85,941.00 L187.33,942.64 L193.72,944.20 L200.02,945.72 L206.22,947.21 L212.31,948.68 L218.29,950.16 L224.14,951.67 L229.86,953.21 L235.46,954.80 L240.95,956.42 L246.33,958.06 L251.61,959.74 L256.79,961.43 L261.90,963.14 L266.92,964.87 L271.87,966.61 L276.76,968.35 L281.59,970.09 L286.38,971.83 L291.12,973.56 L295.83,975.28 L300.51,976.99 L305.17,978.68 L309.82,980.34 L314.47,981.98 L319.11,983.59 L323.75,985.17 L328.40,986.72 L333.04,988.23 L337.68,989.72 L342.33,991.17 L346.97,992.59 L351.61,993.98 L356.26,995.33 L360.90,996.65 L365.55,997.94 L370.19,999.19 L374.83,1000.40 L379.48,1001.58 L384.12,1002.73 L388.76,1003.83 L393.41,1004.91 L398.05,1005.94 L402.69,1006.94 L407.34,1007.90 L411.98,1008.84 L416.62,1009.75 L421.27,1010.65 L425.91,1011.53 L430.55,1012.40 L435.20,1013.26 L439.84,1014.12 L444.49,1014.98 L449.13,1015.84 L453.77,1016.71 L458.42,1017.60 L463.06,1018.51 L467.70,1019.43 L472.35,1020.39 L476.99,1021.37 L481.63,1022.38 L486.28,1023.43 L490.92,1024.51 L495.56,1025.62 L500.21,1026.75 L504.85,1027.89 L509.49,1029.05 L514.14,1030.22 L518.78,1031.40 L523.43,1032.58 L528.07,1033.76 L532.71,1034.93 L537.36,1036.09 L542.00,1037.25 L546.64,1038.38 L551.29,1039.50 L555.93,1040.59 L560.57,1041.65 L565.22,1042.68 L569.87,1043.68 L574.53,1044.65 L579.21,1045.58 L583.92,1046.49 L588.66,1047.36 L593.45,1048.19 L598.28,1049.00 L603.17,1049.78 L608.12,1050.53 L613.14,1051.24 L618.25,1051.93 L623.43,1052.58 L628.71,1053.21 L634.09,1053.80 L639.58,1054.37 L645.18,1054.90 L650.90,1055.41 L656.76,1055.89 L662.77,1056.36 L668.99,1056.82 L675.43,1057.30 L682.15,1057.81 L689.18,1058.35 L696.54,1058.96 L704.29,1059.64 L712.46,1060.40 L721.07,1061.27 L730.18,1062.25 L739.81,1063.36 L750.00,1064.62 L760.79,1066.04 L772.21,1067.63 L784.31,1069.41 L797.11,1071.40 L810.66,1073.60" fill="none" stroke="#000" stroke-width="1.4"/><rect x="97.90" y="905.10" width="16.0" height="16.0" fill="#fff"/><rect x="97.90" y="913.10" width="16.0" height="8.0" fill="#000"/><rect x="97.90" y="905.10" width="16.0" height="16.0" fill="none" stroke="#000" stroke-width="1.5"/><rect x="139.30" y="927.60" width="16.0" height="16.0" fill="#fff"/><rect x="139.30" y="935.60" width="16.0" height="8.0" fill="#000"/><rect x="139.30" y="927.60" width="16.0" height="16.0" fill="none" stroke="#000" stroke-width="1.5"/><rect x="222.22" y="941.20" width="16.0" height="16.0" fill="#fff"/><rect x="222.22" y="949.20" width="16.0" height="8.0" fill="#000"/><rect x="222.22" y="941.20" width="16.0" height="16.0" fill="none" stroke="#000" stroke-width="1.5"/><rect x="305.14" y="975.10" width="16.0" height="16.0" fill="#fff"/><rect x="305.14" y="983.10" width="16.0" height="8.0" fill="#000"/><rect x="305.14" y="975.10" width="16.0" height="16.0" fill="none" stroke="#000" stroke-width="1.5"/><rect x="388.06" y="999.50" width="16.0" height="16.0" fill="#fff"/><rect x="388.06" y="1007.50" width="16.0" height="8.0" fill="#000"/><rect x="388.06" y="999.50" width="16.0" height="16.0" fill="none" stroke="#000" stroke-width="1.5"/><rect x="470.98" y="1011.90" width="16.0" height="16.0" fill="#fff"/><rect x="470.98" y="1019.90" width="16.0" height="8.0" fill="#000"/><rect x="470.98" y="1011.90" width="16.0" height="16.0" fill="none" stroke="#000" stroke-width="1.5"/><rect x="553.90" y="1035.70" width="16.0" height="16.0" fill="#fff"/><rect x="553.90" y="1043.70" width="16.0" height="8.0" fill="#000"/><rect x="553.90" y="1035.70" width="16.0" height="16.0" fill="none" stroke="#000" stroke-width="1.5"/><rect x="636.82" y="1049.00" width="16.0" height="16.0" fill="#fff"/><rect x="636.82" y="1057.00" width="16.0" height="8.0" fill="#000"/><rect x="636.82" y="1049.00" width="16.0" height="16.0" fill="none" stroke="#000" stroke-width="1.5"/><rect x="719.74" y="1051.80" width="16.0" height="16.0" fill="#fff"/><rect x="719.74" y="1059.80" width="16.0" height="8.0" fill="#000"/><rect x="719.74" y="1051.80" width="16.0" height="16.0" fill="none" stroke="#000" stroke-width="1.5"/><rect x="802.66" y="1065.60" width="16.0" height="16.0" fill="#fff"/><rect x="802.66" y="1073.60" width="16.0" height="8.0" fill="#000"/><rect x="802.66" y="1065.60" width="16.0" height="16.0" fill="none" stroke="#000" stroke-width="1.5"/>
<path d="M147.30,998.60 L160.39,1004.26 L172.78,1009.44 L184.52,1014.19 L195.62,1018.51 L206.13,1022.44 L216.07,1026.00 L225.49,1029.23 L234.41,1032.14 L242.86,1034.76 L250.88,1037.13 L258.50,1039.26 L265.75,1041.18 L272.68,1042.92 L279.29,1044.50 L285.64,1045.96 L291.76,1047.31 L297.67,1048.59 L303.41,1049.81 L309.02,1051.02 L314.50,1052.21 L319.88,1053.38 L325.14,1054.53 L330.32,1055.65 L335.39,1056.75 L340.39,1057.80 L345.30,1058.82 L350.15,1059.79 L354.92,1060.70 L359.64,1061.57 L364.31,1062.37 L368.93,1063.11 L373.51,1063.78 L378.06,1064.37 L382.58,1064.89 L387.09,1065.32 L391.58,1065.67 L396.06,1065.92 L400.54,1066.07 L405.02,1066.14 L409.51,1066.12 L413.99,1066.04 L418.47,1065.88 L422.95,1065.68 L427.44,1065.43 L431.92,1065.14 L436.40,1064.82 L440.88,1064.48 L445.36,1064.12 L449.85,1063.77 L454.33,1063.42 L458.81,1063.08 L463.29,1062.76 L467.77,1062.47 L472.26,1062.23 L476.74,1062.03 L481.22,1061.89 L485.70,1061.80 L490.19,1061.77 L494.67,1061.80 L499.15,1061.87 L503.63,1061.99 L508.11,1062.15 L512.60,1062.35 L517.08,1062.59 L521.56,1062.87 L526.04,1063.17 L530.52,1063.50 L535.01,1063.86 L539.49,1064.23 L543.97,1064.63 L548.45,1065.03 L552.94,1065.45 L557.42,1065.88 L561.90,1066.32 L566.38,1066.75 L570.87,1067.19 L575.38,1067.62 L579.90,1068.06 L584.45,1068.49 L589.03,1068.91 L593.65,1069.33 L598.32,1069.74 L603.04,1070.14 L607.81,1070.53 L612.66,1070.91 L617.57,1071.27 L622.57,1071.62 L627.64,1071.95 L632.82,1072.27 L638.08,1072.56 L643.46,1072.83 L648.94,1073.08 L654.55,1073.31 L660.29,1073.52 L666.20,1073.74 L672.32,1073.98 L678.67,1074.27 L685.28,1074.62 L692.21,1075.05 L699.46,1075.58 L707.08,1076.23 L715.10,1077.03 L723.55,1077.98 L732.47,1079.11 L741.89,1080.44 L751.83,1081.99 L762.34,1083.78 L773.44,1085.83 L785.18,1088.15 L797.57,1090.77 L810.66,1093.70" fill="none" stroke="#000" stroke-width="1.4"/><path d="M147.30,986.80 L159.10,998.60 L147.30,1010.40 L135.50,998.60 Z" fill="#fff"/><path d="M135.50,998.60 L159.10,998.60 L147.30,1010.40 Z" fill="#000"/><path d="M147.30,986.80 L159.10,998.60 L147.30,1010.40 L135.50,998.60 Z" fill="none" stroke="#000" stroke-width="1.5"/><path d="M230.22,1023.20 L242.02,1035.00 L230.22,1046.80 L218.42,1035.00 Z" fill="#fff"/><path d="M218.42,1035.00 L242.02,1035.00 L230.22,1046.80 Z" fill="#000"/><path d="M230.22,1023.20 L242.02,1035.00 L230.22,1046.80 L218.42,1035.00 Z" fill="none" stroke="#000" stroke-width="1.5"/><path d="M313.14,1039.20 L324.94,1051.00 L313.14,1062.80 L301.34,1051.00 Z" fill="#fff"/><path d="M301.34,1051.00 L324.94,1051.00 L313.14,1062.80 Z" fill="#000"/><path d="M313.14,1039.20 L324.94,1051.00 L313.14,1062.80 L301.34,1051.00 Z" fill="none" stroke="#000" stroke-width="1.5"/><path d="M396.06,1059.70 L407.86,1071.50 L396.06,1083.30 L384.26,1071.50 Z" fill="#fff"/><path d="M384.26,1071.50 L407.86,1071.50 L396.06,1083.30 Z" fill="#000"/><path d="M396.06,1059.70 L407.86,1071.50 L396.06,1083.30 L384.26,1071.50 Z" fill="none" stroke="#000" stroke-width="1.5"/><path d="M478.98,1046.70 L490.78,1058.50 L478.98,1070.30 L467.18,1058.50 Z" fill="#fff"/><path d="M467.18,1058.50 L490.78,1058.50 L478.98,1070.30 Z" fill="#000"/><path d="M478.98,1046.70 L490.78,1058.50 L478.98,1070.30 L467.18,1058.50 Z" fill="none" stroke="#000" stroke-width="1.5"/><path d="M561.90,1054.40 L573.70,1066.20 L561.90,1078.00 L550.10,1066.20 Z" fill="#fff"/><path d="M550.10,1066.20 L573.70,1066.20 L561.90,1078.00 Z" fill="#000"/><path d="M561.90,1054.40 L573.70,1066.20 L561.90,1078.00 L550.10,1066.20 Z" fill="none" stroke="#000" stroke-width="1.5"/><path d="M644.82,1062.80 L656.62,1074.60 L644.82,1086.40 L633.02,1074.60 Z" fill="#fff"/><path d="M633.02,1074.60 L656.62,1074.60 L644.82,1086.40 Z" fill="#000"/><path d="M644.82,1062.80 L656.62,1074.60 L644.82,1086.40 L633.02,1074.60 Z" fill="none" stroke="#000" stroke-width="1.5"/><path d="M727.74,1062.80 L739.54,1074.60 L727.74,1086.40 L715.94,1074.60 Z" fill="#fff"/><path d="M715.94,1074.60 L739.54,1074.60 L727.74,1086.40 Z" fill="#000"/><path d="M727.74,1062.80 L739.54,1074.60 L727.74,1086.40 L715.94,1074.60 Z" fill="none" stroke="#000" stroke-width="1.5"/><path d="M810.66,1081.90 L822.46,1093.70 L810.66,1105.50 L798.86,1093.70 Z" fill="#fff"/><path d="M798.86,1093.70 L822.46,1093.70 L810.66,1105.50 Z" fill="#000"/><path d="M810.66,1081.90 L822.46,1093.70 L810.66,1105.50 L798.86,1093.70 Z" fill="none" stroke="#000" stroke-width="1.5"/>
<path d="M147.30,862.20 L160.85,883.01 L173.65,901.95 L185.75,919.13 L197.17,934.65 L207.96,948.62 L218.15,961.15 L227.78,972.32 L236.89,982.26 L245.50,991.06 L253.67,998.82 L261.42,1005.65 L268.78,1011.66 L275.81,1016.94 L282.53,1021.61 L288.97,1025.76 L295.19,1029.49 L301.20,1032.93 L307.06,1036.15 L312.78,1039.26 L318.38,1042.25 L323.87,1045.14 L329.25,1047.93 L334.53,1050.63 L339.71,1053.24 L344.82,1055.77 L349.84,1058.22 L354.79,1060.59 L359.68,1062.90 L364.51,1065.15 L369.30,1067.34 L374.04,1069.48 L378.75,1071.57 L383.43,1073.62 L388.09,1075.63 L392.74,1077.62 L397.39,1079.57 L402.03,1081.51 L406.67,1083.42 L411.32,1085.31 L415.96,1087.17 L420.60,1089.01 L425.25,1090.82 L429.89,1092.61 L434.53,1094.37 L439.18,1096.10 L443.82,1097.81 L448.47,1099.49 L453.11,1101.14 L457.75,1102.76 L462.40,1104.35 L467.04,1105.91 L471.68,1107.44 L476.33,1108.94 L480.97,1110.41 L485.61,1111.84 L490.26,1113.25 L494.90,1114.64 L499.54,1116.01 L504.19,1117.36 L508.83,1118.70 L513.47,1120.03 L518.12,1121.36 L522.76,1122.68 L527.41,1124.02 L532.05,1125.35 L536.69,1126.70 L541.34,1128.07 L545.98,1129.45 L550.62,1130.85 L555.27,1132.29 L559.91,1133.75 L564.55,1135.24 L569.20,1136.77 L573.84,1138.32 L578.48,1139.90 L583.13,1141.49 L587.77,1143.09 L592.41,1144.70 L597.06,1146.31 L601.70,1147.91 L606.35,1149.51 L610.99,1151.08 L615.63,1152.64 L620.28,1154.17 L624.92,1155.66 L629.56,1157.12 L634.21,1158.54 L638.85,1159.90 L643.49,1161.22 L648.14,1162.47 L652.79,1163.68 L657.45,1164.84 L662.13,1165.97 L666.84,1167.09 L671.58,1168.20 L676.37,1169.31 L681.20,1170.44 L686.09,1171.59 L691.04,1172.78 L696.06,1174.03 L701.17,1175.33 L706.35,1176.71 L711.63,1178.17 L717.01,1179.72 L722.50,1181.39 L728.10,1183.17 L733.82,1185.07 L739.68,1187.12 L745.69,1189.29 L751.91,1191.57 L758.35,1193.93 L765.07,1196.35 L772.10,1198.82 L779.46,1201.31 L787.21,1203.80 L795.38,1206.28 L803.99,1208.71 L813.10,1211.09 L822.73,1213.39 L832.92,1215.59 L843.71,1217.67 L855.13,1219.62 L867.23,1221.40 L880.03,1223.00 L893.58,1224.40" fill="none" stroke="#0000ff" stroke-width="1.4"/><circle cx="147.30" cy="862.20" r="9.4" fill="#fff"/><path d="M137.90,862.20 A9.4,9.4 0 0 0 156.70,862.20 Z" fill="#0000ff"/><circle cx="147.30" cy="862.20" r="9.4" fill="none" stroke="#0000ff" stroke-width="1.5"/><circle cx="230.22" cy="991.80" r="9.4" fill="#fff"/><path d="M220.82,991.80 A9.4,9.4 0 0 0 239.62,991.80 Z" fill="#0000ff"/><circle cx="230.22" cy="991.80" r="9.4" fill="none" stroke="#0000ff" stroke-width="1.5"/><circle cx="313.14" cy="1041.80" r="9.4" fill="#fff"/><path d="M303.74,1041.80 A9.4,9.4 0 0 0 322.54,1041.80 Z" fill="#0000ff"/><circle cx="313.14" cy="1041.80" r="9.4" fill="none" stroke="#0000ff" stroke-width="1.5"/><circle cx="396.06" cy="1080.20" r="9.4" fill="#fff"/><path d="M386.66,1080.20 A9.4,9.4 0 0 0 405.46,1080.20 Z" fill="#0000ff"/><circle cx="396.06" cy="1080.20" r="9.4" fill="none" stroke="#0000ff" stroke-width="1.5"/><circle cx="478.98" cy="1111.50" r="9.4" fill="#fff"/><path d="M469.58,1111.50 A9.4,9.4 0 0 0 488.38,1111.50 Z" fill="#0000ff"/><circle cx="478.98" cy="1111.50" r="9.4" fill="none" stroke="#0000ff" stroke-width="1.5"/><circle cx="561.90" cy="1132.50" r="9.4" fill="#fff"/><path d="M552.50,1132.50 A9.4,9.4 0 0 0 571.30,1132.50 Z" fill="#0000ff"/><circle cx="561.90" cy="1132.50" r="9.4" fill="none" stroke="#0000ff" stroke-width="1.5"/><circle cx="644.82" cy="1164.80" r="9.4" fill="#fff"/><path d="M635.42,1164.80 A9.4,9.4 0 0 0 654.22,1164.80 Z" fill="#0000ff"/><circle cx="644.82" cy="1164.80" r="9.4" fill="none" stroke="#0000ff" stroke-width="1.5"/><circle cx="727.74" cy="1177.80" r="9.4" fill="#fff"/><path d="M718.34,1177.80 A9.4,9.4 0 0 0 737.14,1177.80 Z" fill="#0000ff"/><circle cx="727.74" cy="1177.80" r="9.4" fill="none" stroke="#0000ff" stroke-width="1.5"/><circle cx="810.66" cy="1216.70" r="9.4" fill="#fff"/><path d="M801.26,1216.70 A9.4,9.4 0 0 0 820.06,1216.70 Z" fill="#0000ff"/><circle cx="810.66" cy="1216.70" r="9.4" fill="none" stroke="#0000ff" stroke-width="1.5"/><circle cx="893.58" cy="1224.40" r="9.4" fill="#fff"/><path d="M884.18,1224.40 A9.4,9.4 0 0 0 902.98,1224.40 Z" fill="#0000ff"/><circle cx="893.58" cy="1224.40" r="9.4" fill="none" stroke="#0000ff" stroke-width="1.5"/>
</g>
<text transform="translate(68.18,666.90) scale(1,1.04)" font-family="Liberation Sans, sans-serif" font-size="42.5" style="font-kerning:none">0</text>
<path transform="translate(68.18,540.30) scale(0.02075)" d="M763,0 L583,0 L583,-1147 Q518,-1085 412,-1023 Q307,-961 223,-930 L223,-1104 Q375,-1175 487,-1276 Q599,-1377 646,-1472 L763,-1472 Z" fill="#000"/>
<text transform="translate(68.18,413.80) scale(1,1.04)" font-family="Liberation Sans, sans-serif" font-size="42.5" style="font-kerning:none">2</text>
<text transform="translate(68.18,287.20) scale(1,1.04)" font-family="Liberation Sans, sans-serif" font-size="42.5" style="font-kerning:none">3</text>
<text transform="translate(68.18,160.70) scale(1,1.04)" font-family="Liberation Sans, sans-serif" font-size="42.5" style="font-kerning:none">4</text>
<text transform="translate(68.18,34.10) scale(1,1.04)" font-family="Liberation Sans, sans-serif" font-size="42.5" style="font-kerning:none">5</text>
<text transform="translate(68.18,1299.40) scale(1,1.04)" font-family="Liberation Sans, sans-serif" font-size="42.5" style="font-kerning:none">0</text>
<path transform="translate(68.18,1172.80) scale(0.02075)" d="M763,0 L583,0 L583,-1147 Q518,-1085 412,-1023 Q307,-961 223,-930 L223,-1104 Q375,-1175 487,-1276 Q599,-1377 646,-1472 L763,-1472 Z" fill="#000"/>
<text transform="translate(68.18,1046.30) scale(1,1.04)" font-family="Liberation Sans, sans-serif" font-size="42.5" style="font-kerning:none">2</text>
<text transform="translate(68.18,919.70) scale(1,1.04)" font-family="Liberation Sans, sans-serif" font-size="42.5" style="font-kerning:none">3</text>
<text transform="translate(68.18,793.20) scale(1,1.04)" font-family="Liberation Sans, sans-serif" font-size="42.5" style="font-kerning:none">4</text>
<text transform="translate(109.3,1333.7) scale(1,1.03)" font-family="Liberation Sans, sans-serif" font-size="38.7" text-anchor="middle">300</text>
<text transform="translate(275.1,1333.7) scale(1,1.03)" font-family="Liberation Sans, sans-serif" font-size="38.7" text-anchor="middle">400</text>
<text transform="translate(440.9,1333.7) scale(1,1.03)" font-family="Liberation Sans, sans-serif" font-size="38.7" text-anchor="middle">500</text>
<text transform="translate(606.7,1333.7) scale(1,1.03)" font-family="Liberation Sans, sans-serif" font-size="38.7" text-anchor="middle">600</text>
<text transform="translate(772.5,1333.7) scale(1,1.03)" font-family="Liberation Sans, sans-serif" font-size="38.7" text-anchor="middle">700</text>
<text transform="translate(938.3,1333.7) scale(1,1.03)" font-family="Liberation Sans, sans-serif" font-size="38.7" text-anchor="middle">800</text>
<text transform="translate(129.9,76.3)" font-family="Liberation Sans, sans-serif" font-size="41.5" font-weight="bold">(a)</text>
<text transform="translate(129.9,716.9)" font-family="Liberation Sans, sans-serif" font-size="41.5" font-weight="bold">(b)</text>
<text transform="translate(524.4,1399.6)" font-family="Liberation Sans, sans-serif" font-size="47.1" text-anchor="middle">Temperature (K)</text>
<text transform="translate(42,312.5) rotate(-90)" font-family="Liberation Sans, sans-serif" font-size="46.2" text-anchor="middle">Thermal cond. (W/m<tspan dy="-3.3">·</tspan><tspan dy="3.3">K)</tspan></text>
<path transform="translate(37.0,1146.0) rotate(-90) scale(1.06)" d="M0.1,-17.4 C2,-18.3 4.5,-19.3 7,-19.9 L7,-11.2 L16.8,-19.2 C18,-20.1 20.5,-20.1 21.5,-18.6 C22.2,-17.3 21,-15.8 20.1,-15.8 C19,-15.8 17.5,-16.5 16.1,-16.5 L10.3,-11.5 L18.6,-2.3 C19.6,-1.2 21,-0.7 22.9,-0.5 L22.9,0 L13,0 C13.6,-0.6 14.3,-1.0 14.1,-1.6 L7.2,-9.7 L7,0 L3.2,0 L3.2,-16.2 C2.2,-16.6 1,-17 0.1,-17.4 Z" fill="#000"/>
<text transform="translate(49.7,1120.0) rotate(-90)" font-family="Liberation Sans, sans-serif" font-size="31" >latt</text>
<text transform="translate(37.6,1065.5) rotate(-90)" font-family="Liberation Sans, sans-serif" font-size="46.5" >&amp;</text>
<path transform="translate(37.0,1023.0) rotate(-90) scale(1.06)" d="M0.1,-17.4 C2,-18.3 4.5,-19.3 7,-19.9 L7,-11.2 L16.8,-19.2 C18,-20.1 20.5,-20.1 21.5,-18.6 C22.2,-17.3 21,-15.8 20.1,-15.8 C19,-15.8 17.5,-16.5 16.1,-16.5 L10.3,-11.5 L18.6,-2.3 C19.6,-1.2 21,-0.7 22.9,-0.5 L22.9,0 L13,0 C13.6,-0.6 14.3,-1.0 14.1,-1.6 L7.2,-9.7 L7,0 L3.2,0 L3.2,-16.2 C2.2,-16.6 1,-17 0.1,-17.4 Z" fill="#000"/>
<text transform="translate(49.7,997.0) rotate(-90)" font-family="Liberation Sans, sans-serif" font-size="31" >elec</text>
<text transform="translate(37.0,926.5) rotate(-90)" font-family="Liberation Sans, sans-serif" font-size="46.5" >(W/m<tspan dy="-3.3">·</tspan><tspan dy="3.3">K)</tspan></text>
<rect x="593.5" y="30" width="332.5" height="227.3" fill="#fff" stroke="#000" stroke-width="1.3"/>
<path d="M599,56.5 H686" stroke="#000" stroke-width="1.3"/>
<circle cx="642.30" cy="56.50" r="9.4" fill="#000" stroke="#000" stroke-width="1.5"/>
<path d="M599,112.5 H686" stroke="#000" stroke-width="1.3"/>
<rect x="634.30" y="104.50" width="16.0" height="16.0" fill="#fff" stroke="#000" stroke-width="1.5"/>
<path d="M599,168.0 H686" stroke="#000" stroke-width="1.3"/>
<path d="M642.30,156.20 L654.10,168.00 L642.30,179.80 L630.50,168.00 Z" fill="#fff" stroke="#000" stroke-width="1.5"/>
<path d="M599,223.5 H686" stroke="#0000ff" stroke-width="1.3"/>
<circle cx="642.30" cy="223.50" r="9.4" fill="#0000ff" stroke="#0000ff" stroke-width="1.5"/>
<text transform="translate(695.10,69.50)" font-family="Liberation Sans, sans-serif" font-size="38.4" style="font-kerning:none">CoSb</text><text transform="translate(791.16,79.50)" font-family="Liberation Sans, sans-serif" font-size="26.4" style="font-kerning:none">3</text>
<text transform="translate(695.10,125.50)" font-family="Liberation Sans, sans-serif" font-size="38.4" style="font-kerning:none">Ce</text><text transform="translate(744.19,135.50)" font-family="Liberation Sans, sans-serif" font-size="26.4" style="font-kerning:none">0.5</text><text transform="translate(780.89,125.50)" font-family="Liberation Sans, sans-serif" font-size="38.4" style="font-kerning:none">Co</text><text transform="translate(829.97,135.50)" font-family="Liberation Sans, sans-serif" font-size="26.4" style="font-kerning:none">4</text><text transform="translate(844.66,125.50)" font-family="Liberation Sans, sans-serif" font-size="38.4" style="font-kerning:none">Sb</text><path transform="translate(891.63,135.50) scale(0.01289)" d="M763,0 L583,0 L583,-1147 Q518,-1085 412,-1023 Q307,-961 223,-930 L223,-1104 Q375,-1175 487,-1276 Q599,-1377 646,-1472 L763,-1472 Z" fill="#000"/><text transform="translate(906.31,135.50)" font-family="Liberation Sans, sans-serif" font-size="26.4" style="font-kerning:none">2</text>
<text transform="translate(695.10,181.00)" font-family="Liberation Sans, sans-serif" font-size="38.4" style="font-kerning:none">La</text><text transform="translate(737.81,191.00)" font-family="Liberation Sans, sans-serif" font-size="26.4" style="font-kerning:none">0.5</text><text transform="translate(774.51,181.00)" font-family="Liberation Sans, sans-serif" font-size="38.4" style="font-kerning:none">Co</text><text transform="translate(823.60,191.00)" font-family="Liberation Sans, sans-serif" font-size="26.4" style="font-kerning:none">4</text><text transform="translate(838.28,181.00)" font-family="Liberation Sans, sans-serif" font-size="38.4" style="font-kerning:none">Sb</text><path transform="translate(885.25,191.00) scale(0.01289)" d="M763,0 L583,0 L583,-1147 Q518,-1085 412,-1023 Q307,-961 223,-930 L223,-1104 Q375,-1175 487,-1276 Q599,-1377 646,-1472 L763,-1472 Z" fill="#000"/><text transform="translate(899.93,191.00)" font-family="Liberation Sans, sans-serif" font-size="26.4" style="font-kerning:none">2</text>
<text transform="translate(695.10,236.50)" font-family="Liberation Sans, sans-serif" font-size="38.4" style="font-kerning:none">Eu</text><text transform="translate(742.07,246.50)" font-family="Liberation Sans, sans-serif" font-size="26.4" style="font-kerning:none">0.5</text><text transform="translate(778.77,236.50)" font-family="Liberation Sans, sans-serif" font-size="38.4" style="font-kerning:none">Co</text><text transform="translate(827.86,246.50)" font-family="Liberation Sans, sans-serif" font-size="26.4" style="font-kerning:none">4</text><text transform="translate(842.54,236.50)" font-family="Liberation Sans, sans-serif" font-size="38.4" style="font-kerning:none">Sb</text><path transform="translate(889.51,246.50) scale(0.01289)" d="M763,0 L583,0 L583,-1147 Q518,-1085 412,-1023 Q307,-961 223,-930 L223,-1104 Q375,-1175 487,-1276 Q599,-1377 646,-1472 L763,-1472 Z" fill="#000"/><text transform="translate(904.19,246.50)" font-family="Liberation Sans, sans-serif" font-size="26.4" style="font-kerning:none">2</text>
<rect x="716.8" y="678" width="194.3" height="138.3" fill="#fff" stroke="#000" stroke-width="1.3"/>
<path d="M722,712.6 H817" stroke="#000" stroke-width="1.3"/>
<circle cx="770.00" cy="712.60" r="9.4" fill="#fff"/><path d="M760.60,712.60 A9.4,9.4 0 0 0 779.40,712.60 Z" fill="#000"/><circle cx="770.00" cy="712.60" r="9.4" fill="none" stroke="#000" stroke-width="1.5"/>
<path transform="translate(829.0,726.8) scale(1.0)" d="M0.1,-17.4 C2,-18.3 4.5,-19.3 7,-19.9 L7,-11.2 L16.8,-19.2 C18,-20.1 20.5,-20.1 21.5,-18.6 C22.2,-17.3 21,-15.8 20.1,-15.8 C19,-15.8 17.5,-16.5 16.1,-16.5 L10.3,-11.5 L18.6,-2.3 C19.6,-1.2 21,-0.7 22.9,-0.5 L22.9,0 L13,0 C13.6,-0.6 14.3,-1.0 14.1,-1.6 L7.2,-9.7 L7,0 L3.2,0 L3.2,-16.2 C2.2,-16.6 1,-17 0.1,-17.4 Z" fill="#000"/>
<text transform="translate(852.5,738.4)" font-family="Liberation Sans, sans-serif" font-size="28.5" >elec</text>
<path d="M722,779.0 H817" stroke="#000" stroke-width="1.3"/>
<circle cx="770.00" cy="779.00" r="9.4" fill="#fff" stroke="#000" stroke-width="1.5"/>
<path transform="translate(829.0,793.2) scale(1.0)" d="M0.1,-17.4 C2,-18.3 4.5,-19.3 7,-19.9 L7,-11.2 L16.8,-19.2 C18,-20.1 20.5,-20.1 21.5,-18.6 C22.2,-17.3 21,-15.8 20.1,-15.8 C19,-15.8 17.5,-16.5 16.1,-16.5 L10.3,-11.5 L18.6,-2.3 C19.6,-1.2 21,-0.7 22.9,-0.5 L22.9,0 L13,0 C13.6,-0.6 14.3,-1.0 14.1,-1.6 L7.2,-9.7 L7,0 L3.2,0 L3.2,-16.2 C2.2,-16.6 1,-17 0.1,-17.4 Z" fill="#000"/>
<text transform="translate(852.5,804.8)" font-family="Liberation Sans, sans-serif" font-size="28.5" >latt</text>
</svg></body></html>
